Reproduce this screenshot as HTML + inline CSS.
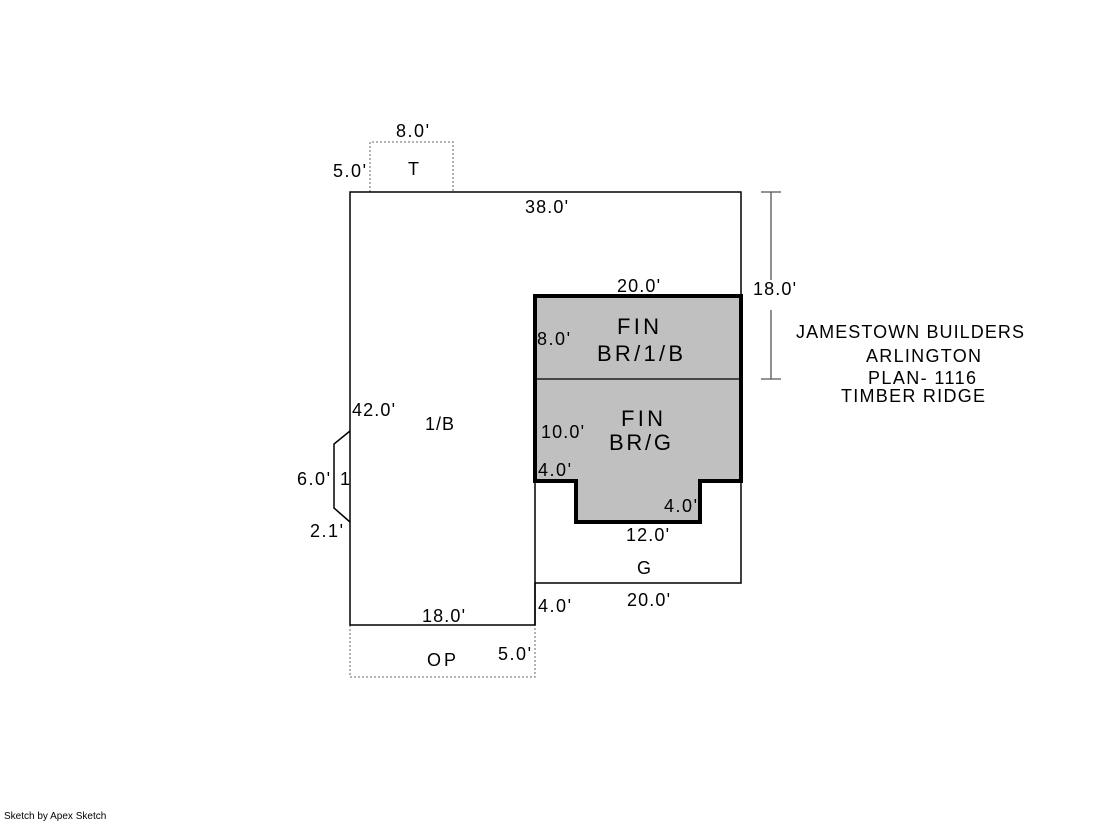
<!DOCTYPE html>
<html><head><meta charset="utf-8"><style>
body{margin:0;background:#fff}
svg text{font-family:"Liberation Sans",Arial,sans-serif;fill:#000}
</style></head><body>
<svg width="1119" height="821" viewBox="0 0 1119 821" xmlns="http://www.w3.org/2000/svg">
<rect x="0" y="0" width="1119" height="821" fill="#fff"/>
<path d="M370,192 V142 H453 V192" fill="none" stroke="#888" stroke-width="1.3" stroke-dasharray="2,2"/>
<path d="M350,625 V677 H535 V625" fill="none" stroke="#888" stroke-width="1.3" stroke-dasharray="2,2"/>
<path d="M535,296 H741 V481 H700 V522 H576 V481 H535 Z" fill="#c0c0c0"/>
<path d="M350,192 H741 V583 H535 V625 H350 Z" fill="none" stroke="#000" stroke-width="1.5"/>
<line x1="535" y1="296" x2="535" y2="625" stroke="#000" stroke-width="1.5"/>
<path d="M350,431 L334,444 V508 L350,522" fill="none" stroke="#000" stroke-width="1.5"/>
<path d="M535,296 H741 V481 H700 V522 H576 V481 H535 Z" fill="none" stroke="#000" stroke-width="4"/>
<line x1="535" y1="379" x2="741" y2="379" stroke="#000" stroke-width="1.2"/>
<g stroke="#555" stroke-width="1.3">
<line x1="771" y1="192" x2="771" y2="280"/><line x1="761" y1="192" x2="781" y2="192"/>
<line x1="771" y1="310" x2="771" y2="379"/><line x1="761" y1="379" x2="781" y2="379"/>
</g>
<g font-size="18">
<text x="396" y="137" textLength="33">8.0'</text>
<text x="333" y="177" textLength="33">5.0'</text>
<text x="408" y="175">T</text>
<text x="525" y="213" textLength="43">38.0'</text>
<text x="617" y="292" textLength="43">20.0'</text>
<text x="753" y="295" textLength="43">18.0'</text>
<text x="537" y="345" textLength="33">8.0'</text>
<text x="352" y="416" textLength="43">42.0'</text>
<text x="425" y="430" textLength="29">1/B</text>
<text x="541" y="438" textLength="43">10.0'</text>
<text x="538" y="476" textLength="33">4.0'</text>
<text x="297" y="485" textLength="33">6.0'</text>
<text x="340" y="485">1</text>
<text x="664" y="512" textLength="33">4.0'</text>
<text x="310" y="537" textLength="33">2.1'</text>
<text x="626" y="541" textLength="43">12.0'</text>
<text x="637" y="574">G</text>
<text x="627" y="606" textLength="43">20.0'</text>
<text x="538" y="612" textLength="33">4.0'</text>
<text x="422" y="622" textLength="43">18.0'</text>
<text x="498" y="660" textLength="33">5.0'</text>
<text x="427" y="666" textLength="29">OP</text>
<text x="796" y="338" textLength="228">JAMESTOWN BUILDERS</text>
<text x="866" y="362" textLength="115">ARLINGTON</text>
<text x="868" y="384" textLength="108">PLAN- 1116</text>
<text x="841" y="402" textLength="144">TIMBER RIDGE</text>
</g>
<g font-size="22">
<text x="617" y="334" textLength="42">FIN</text>
<text x="597" y="361" textLength="86">BR/1/B</text>
<text x="621" y="426" textLength="42">FIN</text>
<text x="609" y="450" textLength="62">BR/G</text>
</g>
<text x="4" y="819" font-size="10">Sketch by Apex Sketch</text>
</svg>
</body></html>
